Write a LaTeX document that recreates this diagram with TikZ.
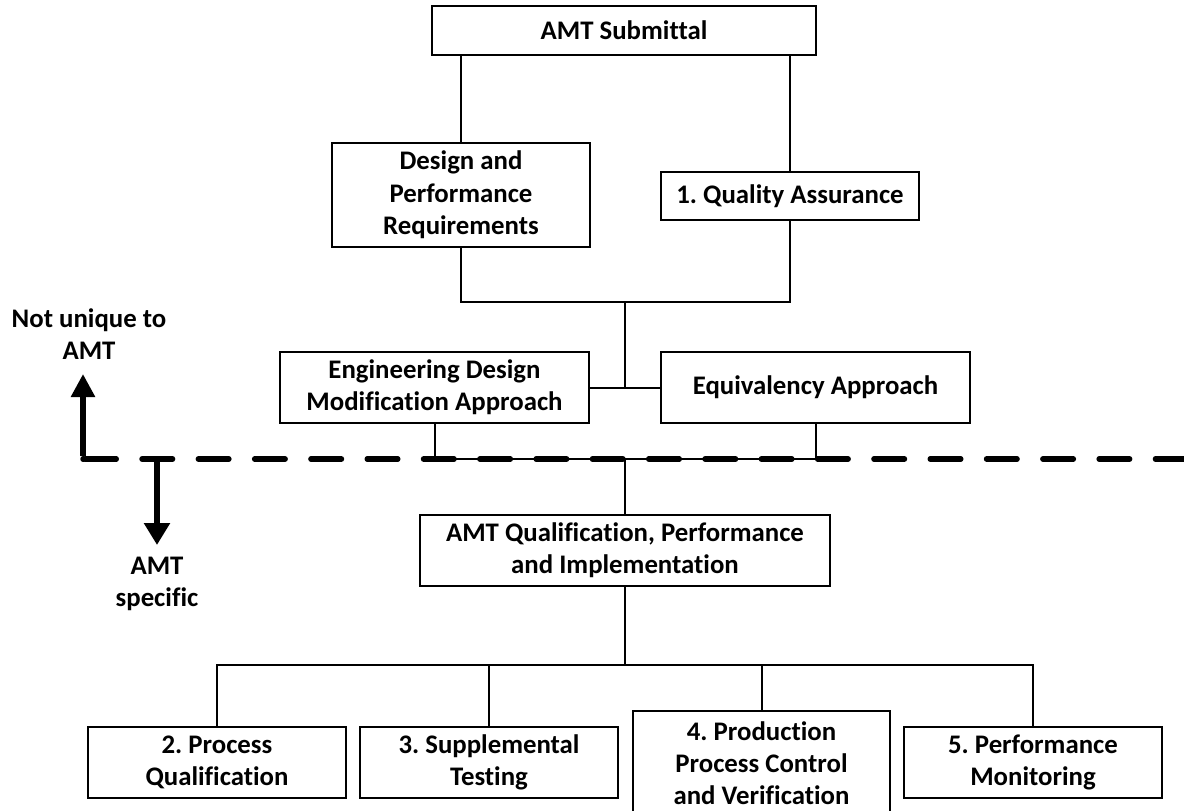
\documentclass[tikz,border=0pt]{standalone}
\usepackage{fontspec}
\setmainfont{Carlito}[Ligatures=NoCommon]
\usetikzlibrary{arrows.meta}
\frenchspacing
\begin{document}
\begin{tikzpicture}[x=1pt,y=-1pt,
  box/.style={draw, line width=2pt, inner sep=0pt, align=center,
    font=\bfseries\fontsize{26.8}{32.3}\selectfont},
  wire/.style={line width=2pt},
  lbl/.style={align=center, inner sep=0pt, font=\bfseries\fontsize{26.8}{32}\selectfont},
  boundary/.style={line width=5.5pt, line cap=round, dash pattern=on 30.5pt off 25.8pt},
  pointer/.style={line width=5.5pt, line cap=butt}]
\useasboundingbox (0,0) rectangle (1184,811);

% boxes
\node[box, minimum width=384pt, minimum height=49pt] (sub) at (624,30.5) {AMT Submittal};
\node[box, minimum width=258pt, minimum height=104pt] (dpr) at (461,195) {Design and\\Performance\\Requirements};
\node[box, minimum width=258pt, minimum height=48pt] (qa) at (790,196) {1. Quality Assurance};
\node[box, minimum width=309pt, minimum height=71pt] (eng) at (434.5,387.5) {Engineering Design\\Modification Approach};
\node[box, minimum width=309pt, minimum height=71pt] (eqv) at (815.5,387.5) {Equivalency Approach};
\node[box, minimum width=410pt, minimum height=71pt] (amt) at (625,550.5) {AMT Qualification, Performance\\and Implementation};
\node[box, minimum width=258pt, minimum height=71pt] (p2) at (217,762.5) {2. Process\\Qualification};
\node[box, minimum width=258pt, minimum height=71pt] (p3) at (489,762.5) {3. Supplemental\\Testing};
\node[box, minimum width=257pt, minimum height=104pt] (p4) at (761.5,763) {4. Production\\Process Control\\and Verification};
\node[box, minimum width=258pt, minimum height=71pt] (p5) at (1033,762.5) {5. Performance\\Monitoring};

% junction points
\coordinate (j1) at (625,302);
\coordinate (j2) at (625,459);
\coordinate (j3) at (625,665);

% connectors
\draw[wire] (dpr.north |- sub.south) -- (dpr.north);
\draw[wire] (qa.north |- sub.south) -- (qa.north);
\draw[wire] (dpr.south) |- (j1) -| (qa.south);
\draw[wire] (j1) -- (j1 |- eng.east);
\draw[wire] (eng.east) -- (eqv.west);
\draw[wire] (eng.south) |- (j2) -| (eqv.south);
\draw[wire] (j2) -- (amt.north);
\draw[wire] (amt.south) -- (j3);
\draw[wire] (p2.north) |- (j3) -| (p5.north);
\draw[wire] (p3.north) -- (p3.north |- j3);
\draw[wire] (p4.north) -- (p4.north |- j3);

% boundary between generic and AMT-specific parts
\coordinate (corner) at (83,459);
\coordinate (dashstart) at (85.75,459);
\coordinate (dashend) at (1190,459);
\coordinate (uptip) at (83,374);
\coordinate (downroot) at (157,459);
\coordinate (downtip) at (157,545);
\draw[boundary] (dashstart) -- (dashend);
\draw[pointer, -{Triangle[length=23pt,width=23pt]}] ([yshift=2.75pt]corner) -- (uptip);
\draw[pointer, line cap=round] (corner) -- ([xshift=1pt]corner);
\draw[pointer, -{Triangle[length=22pt,width=25pt]}] (downroot) -- (downtip);

\node[lbl] (generic) at (89,334) {Not unique to\\AMT};
\node[lbl] (specific) at (157,584) {AMT\\specific};
\end{tikzpicture}
\end{document}
